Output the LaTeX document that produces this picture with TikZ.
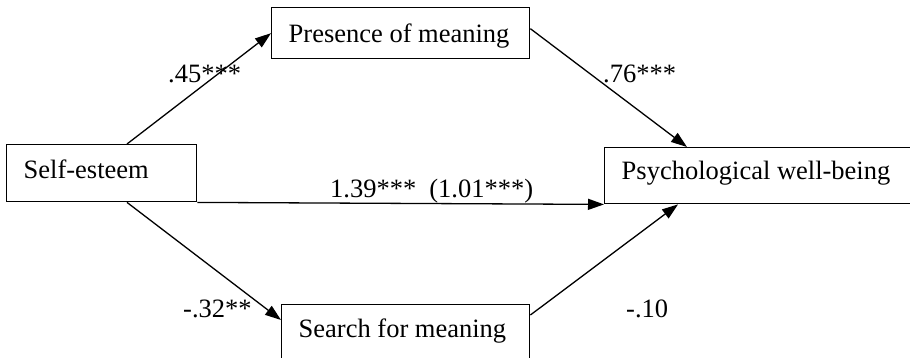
\documentclass[tikz,border=0pt]{standalone}
\usepackage{fontspec}
\setmainfont{Liberation Serif}
\usetikzlibrary{arrows.meta}
\tikzset{
  varbox/.style={draw, line width=1.4pt, inner xsep=17pt, inner ysep=0pt, anchor=north west,
    font=\fontsize{26.5}{30}\selectfont},
  coef/.style={anchor=base west, inner sep=0pt, font=\fontsize{26.5}{30}\selectfont},
  path/.style={line width=1.3pt, -{Triangle[length=16pt,width=11pt]}}
}
\begin{document}
\begin{tikzpicture}[x=1pt,y=-1pt]
\useasboundingbox (0,0) rectangle (910,358);
\clip (0,0) rectangle (910,358);
% boxes
\node[varbox, text height=34pt, text depth=23pt] (se) at (6,144) {\makebox[156pt][l]{Self-esteem}};
\node[varbox, text height=35pt, text depth=16pt] (pom) at (271,7) {\makebox[224pt][l]{Presence of meaning}};
\node[varbox, text height=32pt, text depth=24pt] (pwb) at (604,147) {\makebox[280pt][l]{Psychological well-being}};
\node[varbox, text height=33pt, text depth=40pt] (sfm) at (281,304) {\makebox[214pt][l]{Search for meaning}};
% connectors
\draw[path] ([xshift=121pt]se.north west) -- (pom.west);
\draw[path] ([yshift=4.5pt]pom.east) -- ([xshift=83pt]pwb.north west);
\draw[path] (se.south east) -- (pwb.south west);
\draw[path] ([xshift=121pt]se.south west) -- ([yshift=-16pt]sfm.north west);
\draw[path] ([yshift=-11pt]sfm.north east) -- ([xshift=74pt]pwb.south west);
% coefficients
\node[coef] (c1) at (168,83) {.45***};
\node[coef] (c2) at (603,83) {.76***};
\node[coef] (c3) at (330,198) {1.39***\hspace{13pt}(1.01***)};
\node[coef] (c4) at (183,317) {-.32**};
\node[coef] (c5) at (626,317) {-.10};
\end{tikzpicture}
\end{document}
